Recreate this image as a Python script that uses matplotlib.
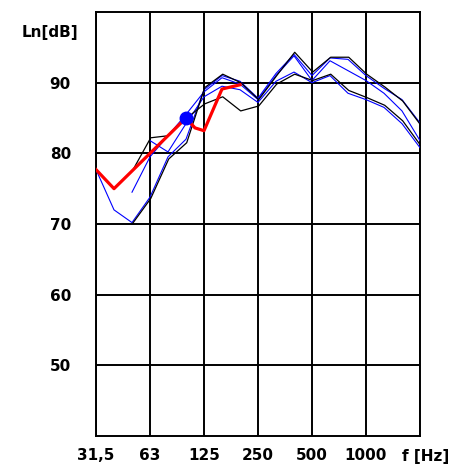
import matplotlib
matplotlib.use('Agg')
import matplotlib.pyplot as plt
import matplotlib.transforms as mtransforms
import numpy as np

# third-octave bands 31.5 Hz .. 2000 Hz (index 0..18)
bands = np.arange(19)
tick_idx = [0, 3, 6, 9, 12, 15, 18]
tick_labels = ['31,5', '63', '125', '250', '500', '1000', 'f [Hz]']
y_ticks = [50, 60, 70, 80, 90]

nan = np.nan
black1 = [nan, nan, 70.1, 73.6, 79.2, 81.5, 89.3, 91.2, 90.0, 87.6,
          91.0, 94.3, 91.5, 93.6, 93.6, 91.2, 89.4, 87.4, 84.0]
black2 = [nan, nan, 77.6, 82.2, 82.5, 85.0, 87.0, 88.0, 86.0, 86.7,
          89.8, 91.2, 90.3, 91.2, 88.9, 87.9, 86.8, 84.6, 81.1]
blue1 = [77.7, 72.0, 70.2, 73.8, 79.5, 82.0, 89.0, 91.0, 90.2, 87.8,
         91.3, 94.0, 91.0, 93.5, 93.3, 91.0, 89.2, 87.6, 84.3]
blue2 = [nan, nan, 74.5, 79.5, 82.5, 85.5, 88.7, 90.7, 89.8, 87.6,
         91.0, 93.8, 90.3, 93.1, 91.7, 90.3, 88.5, 86.0, 81.8]
blue3 = [nan, nan, nan, 81.8, 80.2, 84.2, 88.0, 89.5, 89.0, 87.2,
         90.2, 91.5, 90.0, 91.0, 88.5, 87.6, 86.5, 84.2, 80.8]

red_x = [0, 1, 2, 3, 4, 5, 5.5, 6, 7, 8]
red_y = [77.7, 75.0, 77.5, 80.0, 82.5, 85.0, 83.6, 83.2, 89.1, 89.7]
dot_x, dot_y = 5, 85.0

fig = plt.figure(figsize=(4.63, 4.67), dpi=100)
ax = fig.add_axes([96/463, 31/467, 324/463, 424/467])

for s in [blue1, blue2, blue3]:
    ax.plot(bands, s, color='#0000ff', lw=0.8, zorder=3)
for s in [black1, black2]:
    ax.plot(bands + 0.04, s, color='black', lw=0.9, zorder=4)
ax.plot(red_x, red_y, color='#ff0000', lw=2.3, zorder=5)
ax.plot([dot_x], [dot_y], 'o', color='#0000ff', ms=9, zorder=6)

ax.set_xlim(0, 18)
ax.set_ylim(40, 100)
ax.set_xticks(tick_idx)
ax.set_xticklabels(tick_labels, fontsize=11, fontweight='bold')
ax.set_yticks(y_ticks)
ax.set_yticklabels([str(v) for v in y_ticks], fontsize=11, fontweight='bold')
ax.tick_params(axis='x', length=0, pad=9)
ax.tick_params(axis='y', length=0, pad=18)
ax.grid(True, color='black', lw=1.4)
ax.set_axisbelow(True)
for sp in ax.spines.values():
    sp.set_linewidth(1.4)

# unit label sits a little right of the last gridline
last = ax.get_xticklabels()[-1]
last.set_transform(last.get_transform() +
                   mtransforms.ScaledTranslation(6/100, 0, fig.dpi_scale_trans))

fig.text(50/463, 1 - 33/467, 'Ln[dB]', fontsize=11, fontweight='bold',
         ha='center', va='center')

fig.savefig('out.png', dpi=100)
